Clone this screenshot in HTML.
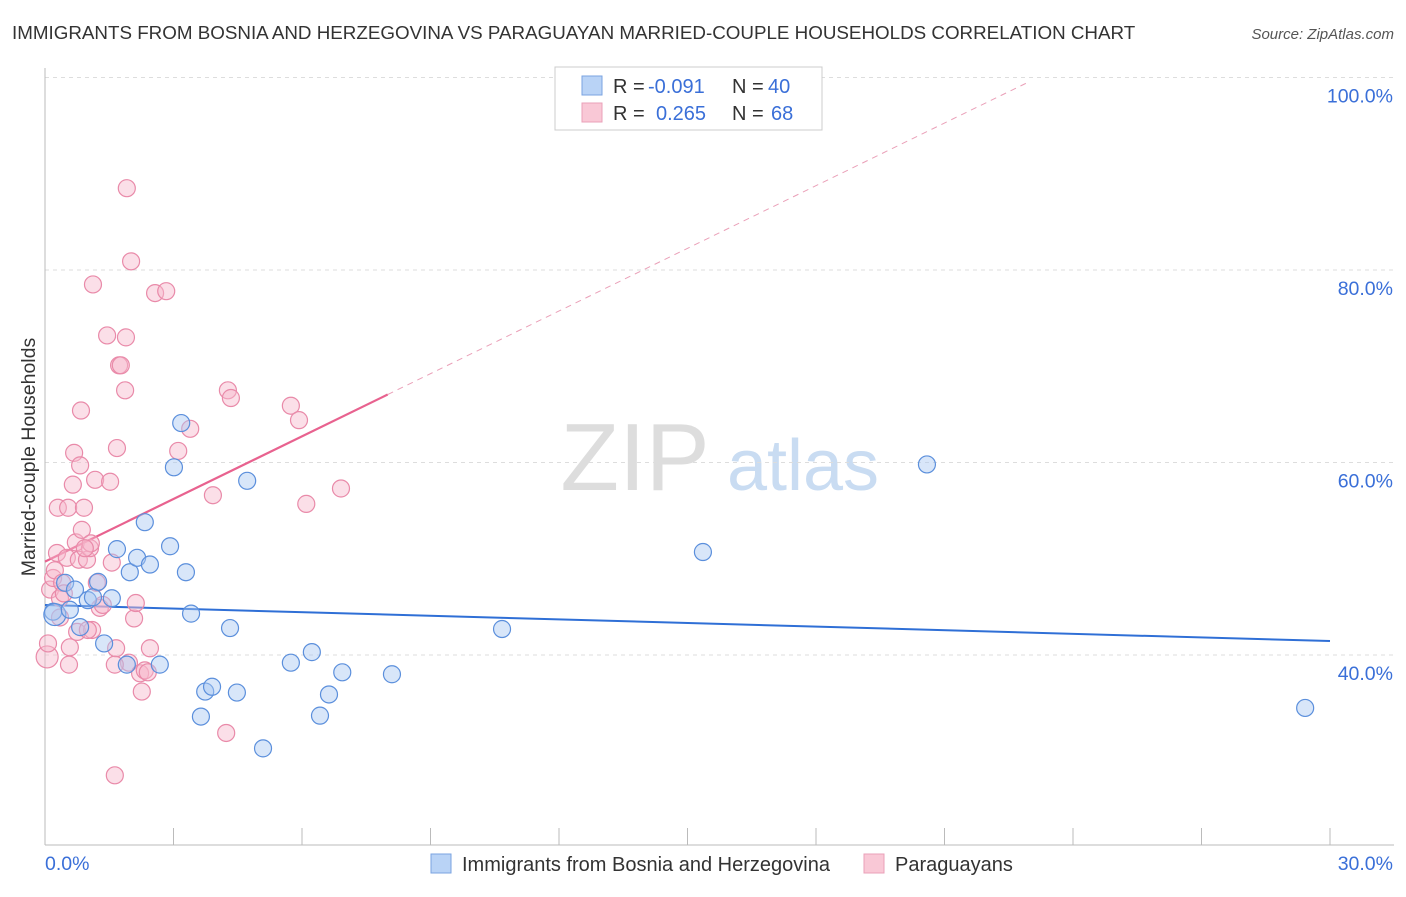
<!DOCTYPE html>
<html><head><meta charset="utf-8"><style>
body{margin:0;background:#fff;font-family:"Liberation Sans",sans-serif;}
svg text{font-family:"Liberation Sans",sans-serif;}
</style></head><body>
<svg id="c" width="1406" height="892" xmlns="http://www.w3.org/2000/svg">
<text x="12" y="39" font-size="18.8" fill="#333">IMMIGRANTS FROM BOSNIA AND HERZEGOVINA VS PARAGUAYAN MARRIED-COUPLE HOUSEHOLDS CORRELATION CHART</text>
<text x="1394" y="39" font-size="15" fill="#555" font-style="italic" text-anchor="end">Source: ZipAtlas.com</text>
<text x="35" y="457" font-size="19.5" fill="#333" transform="rotate(-90 35 457)" text-anchor="middle">Married-couple Households</text>
<g><text x="635" y="490" font-size="96" fill="#ddd" font-family="Liberation Serif" text-anchor="middle">ZIP</text><text x="803" y="490" font-size="72" fill="#c9dcf2" text-anchor="middle">atlas</text></g>
<g id="grid"></g><g id="axes"></g><g id="lines"></g><g id="pts"></g>
<g>
<rect x="555" y="67" width="267" height="63" fill="#fff" stroke="#ccc"/>
<rect x="582" y="76" width="20" height="19" fill="#b9d3f6" stroke="#7aa3e0"/>
<rect x="582" y="103" width="20" height="19" fill="#f9c8d6" stroke="#eaa0b8"/>
<text x="613" y="93" font-size="20" fill="#333">R =</text><text x="648" y="93" font-size="20" fill="#3a6fd8">-0.091</text>
<text x="732" y="93" font-size="20" fill="#333">N =</text><text x="768" y="93" font-size="20" fill="#3a6fd8">40</text>
<text x="613" y="120" font-size="20" fill="#333">R =</text><text x="656" y="120" font-size="20" fill="#3a6fd8">0.265</text>
<text x="732" y="120" font-size="20" fill="#333">N =</text><text x="771" y="120" font-size="20" fill="#3a6fd8">68</text>
</g>
<g>
<rect x="431" y="854" width="20" height="19" fill="#b9d3f6" stroke="#7aa3e0"/>
<text x="462" y="871" font-size="20" fill="#333">Immigrants from Bosnia and Herzegovina</text>
<rect x="864" y="854" width="20" height="19" fill="#f9c8d6" stroke="#eaa0b8"/>
<text x="895" y="871" font-size="20" fill="#333">Paraguayans</text>
</g>
</svg>
<script>
const blueX=[0.19,0.23,0.47,0.58,0.70,0.82,1.00,1.12,1.24,1.38,1.56,1.68,1.91,1.98,2.15,2.33,2.45,2.68,2.92,3.01,3.18,3.29,3.41,3.64,3.74,3.90,4.32,4.48,4.72,5.09,5.74,6.23,6.42,6.63,6.94,8.10,10.67,15.36,20.59,29.42];
const blueY=[44.5,44.2,47.5,44.7,46.8,42.9,45.7,46.0,47.6,41.2,45.9,51.0,39.0,48.6,50.1,53.8,49.4,39.0,51.3,59.5,64.1,48.6,44.3,33.6,36.2,36.7,42.8,36.1,58.1,30.3,39.2,40.3,33.7,35.9,38.2,38.0,42.7,50.7,59.8,34.5];
const pinkX=[0.05,0.07,0.12,0.19,0.23,0.28,0.30,0.35,0.40,0.44,0.51,0.54,0.56,0.58,0.65,0.68,0.72,0.75,0.79,0.82,0.84,0.86,0.91,0.98,1.05,1.07,1.10,1.12,1.17,1.21,1.28,1.35,1.45,1.52,1.56,1.63,1.66,1.68,1.73,1.77,1.87,1.89,1.91,1.96,2.01,2.08,2.12,2.22,2.26,2.33,2.40,2.45,2.57,2.83,3.11,3.39,3.92,4.23,4.27,4.34,5.74,5.93,6.10,6.91,1.63,1.00,0.35,0.93];
const pinkY=[39.8,41.2,46.8,48.0,48.8,50.6,55.3,45.9,47.5,46.4,50.1,55.3,39.0,40.8,57.7,61.0,51.7,42.4,49.9,59.7,65.4,53.0,55.3,49.9,51.1,51.6,42.6,78.5,58.2,47.5,44.9,45.2,73.2,58.0,49.6,27.5,40.7,61.5,70.1,70.1,67.5,73.0,88.5,39.2,80.9,43.8,45.4,38.1,36.2,38.4,38.2,40.7,77.6,77.8,61.2,63.5,56.6,31.9,67.5,66.7,65.9,64.4,55.7,57.3,39.0,42.6,43.9,51.1];
const yTicks=[40,60,80,100];
const xTickLabels=["0.0%","30.0%"];
const blueTrend=[45.2,-0.125];
const pinkTrend=[49.7,2.17];
const pinkSolidEnd=8.0, pinkDashEnd=23.0, blueEnd=30;
const NS="http://www.w3.org/2000/svg";
const X=v=>45+v*1285/30, Y=v=>655-(v-40)*9.625;
function el(t,a,p){const e=document.createElementNS(NS,t);for(const k in a)e.setAttribute(k,a[k]);document.getElementById(p).appendChild(e);return e;}
yTicks.forEach(t=>{
 const g=el('line',{x1:45,x2:1394,y1:Y(t),y2:Y(t),stroke:'#ddd','stroke-dasharray':'4,4'},'grid');
 
 
 const l=el('text',{x:1393,y:Y(t)+25,'font-size':19.5,fill:'#3a6fd8','text-anchor':'end'},'axes');l.textContent=t.toFixed(1)+'%';
 
 
});
const ax=el('line',{x1:45,x2:1394,y1:845,y2:845,stroke:'#bbb'},'axes');


const ay=el('line',{x1:45,x2:45,y1:68,y2:845,stroke:'#bbb'},'axes');


for(let i=0;i<=10;i++){const t=el('line',{x1:X(i*3),x2:X(i*3),y1:828,y2:845,stroke:'#bbb'},'axes');
 
 }
[[0,45,'start'],[30,1393,'end']].forEach((d,i)=>{const t=el('text',{x:d[1],y:870,'font-size':19.5,fill:'#3a6fd8','text-anchor':d[2]},'axes');t.textContent=xTickLabels[i];
 
 });
function pts(xs,ys,fill,stroke,name,bigIdx){xs.forEach((x,i)=>{const c=el('circle',{cx:X(x),cy:Y(ys[i]),r:i===bigIdx?11:8.5,fill:fill,'fill-opacity':0.45,stroke:stroke,'stroke-width':1.2},'pts');
 
 });}
pts(pinkX,pinkY,'#f7b8cb','#e98aa9','paraguayan-point',0);
pts(blueX,blueY,'#a9c8f2','#5b8fdc','bosnia-point',1);
const b=el('line',{x1:X(0),y1:Y(blueTrend[0]),x2:X(blueEnd),y2:Y(blueTrend[0]+blueTrend[1]*blueEnd),stroke:'#2f6fd6','stroke-width':2},'lines');


const p=el('line',{x1:X(0),y1:Y(pinkTrend[0]),x2:X(pinkSolidEnd),y2:Y(pinkTrend[0]+pinkTrend[1]*pinkSolidEnd),stroke:'#e8628f','stroke-width':2.2},'lines');


const pd=el('line',{x1:X(pinkSolidEnd),y1:Y(pinkTrend[0]+pinkTrend[1]*pinkSolidEnd),x2:X(pinkDashEnd),y2:Y(pinkTrend[0]+pinkTrend[1]*pinkDashEnd),stroke:'#eaa0b8','stroke-width':1,'stroke-dasharray':'6,5'},'lines');


</script>
</body></html>
